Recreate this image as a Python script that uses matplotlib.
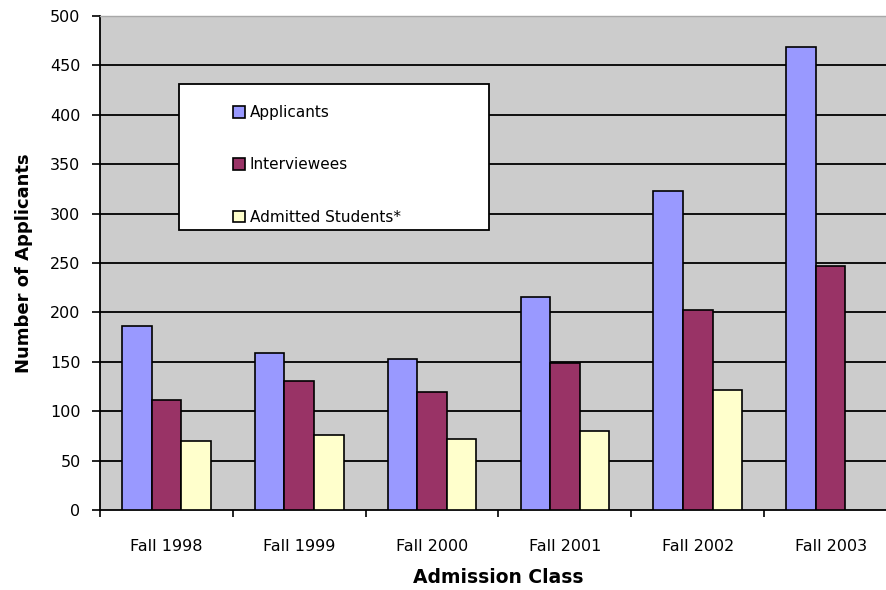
import numpy as np
import matplotlib
matplotlib.use("Agg")
import matplotlib.pyplot as plt
from matplotlib.patches import Rectangle

categories = ["Fall 1998", "Fall 1999", "Fall 2000", "Fall 2001", "Fall 2002", "Fall 2003"]
applicants = [186, 159, 153, 216, 323, 469]
interviewees = [111, 131, 119, 149, 202, 247]
admitted = [70, 76, 72, 80, 121, np.nan]
series_names = ["Applicants", "Interviewees", "Admitted Students*"]
colors = ["#9999FF", "#993366", "#FFFFCC"]
yticks = [0, 50, 100, 150, 200, 250, 300, 350, 400, 450, 500]

plt.rcParams['font.family'] = ['DejaVu Sans']

W, H = 887, 590
fig = plt.figure(figsize=(W / 100, H / 100), dpi=100)
ax_l, ax_r, ax_t, ax_b = 100, 897, 16, 510
ax = fig.add_axes([ax_l / W, 1 - ax_b / H, (ax_r - ax_l) / W, (ax_b - ax_t) / H])
ax.set_facecolor("#CCCCCC")

x = np.arange(len(categories))
bw = 1 / 4.5
handles = []
for i, (vals, c, name) in enumerate(zip([applicants, interviewees, admitted], colors, series_names)):
    b = ax.bar(x + (i - 1) * bw, vals, width=bw, color=c, edgecolor="black",
               linewidth=1.2, zorder=3, label=name)
    handles.append(b)

ax.set_xlim(-0.5, len(categories) - 0.5)
ax.set_ylim(0, 500)
ax.set_yticks(yticks)
ax.set_yticklabels([str(v) for v in yticks], fontsize=11.5)
for v in yticks[1:-1]:
    ax.axhline(v, color="black", linewidth=1.3, zorder=1)

ax.set_xticks(x)
ax.set_xticklabels(categories, fontsize=11.5)
ax.set_xticks(np.arange(len(categories) + 1) - 0.5, minor=True)
ax.tick_params(axis="x", which="major", length=0, pad=21)
ax.tick_params(axis="x", which="minor", length=5, width=1.2, direction="out")
ax.tick_params(axis="y", length=6, width=1.2, direction="out", pad=8)

for s in ["left", "bottom"]:
    ax.spines[s].set_color("black")
    ax.spines[s].set_linewidth(1.3)
ax.spines["top"].set_color("#A8A8A8")
ax.spines["top"].set_linewidth(1.0)
ax.spines["right"].set_visible(False)

ax.set_ylabel("Number of Applicants", fontsize=13, fontweight="bold", labelpad=12)
ax.set_xlabel("Admission Class", fontsize=13.5, fontweight="bold", labelpad=10)

# legend frame
aw, ah = ax_r - ax_l, ax_b - ax_t
lx0, lx1, ly0, ly1 = 179, 489, 84, 230
ax.add_patch(Rectangle(((lx0 - ax_l) / aw, (ax_b - ly1) / ah), (lx1 - lx0) / aw, (ly1 - ly0) / ah,
                       transform=ax.transAxes, facecolor="white", edgecolor="black",
                       linewidth=1.3, zorder=4))
leg = ax.legend(handles=handles, loc="upper left",
                bbox_to_anchor=((233 - ax_l) / aw, (ax_b - 105) / ah),
                frameon=False, fontsize=11, handlelength=0.8, handleheight=0.8,
                handletextpad=0.3, labelspacing=2.45, borderpad=0, borderaxespad=0)
leg.set_zorder(5)

fig.savefig("out.png", dpi=100)
